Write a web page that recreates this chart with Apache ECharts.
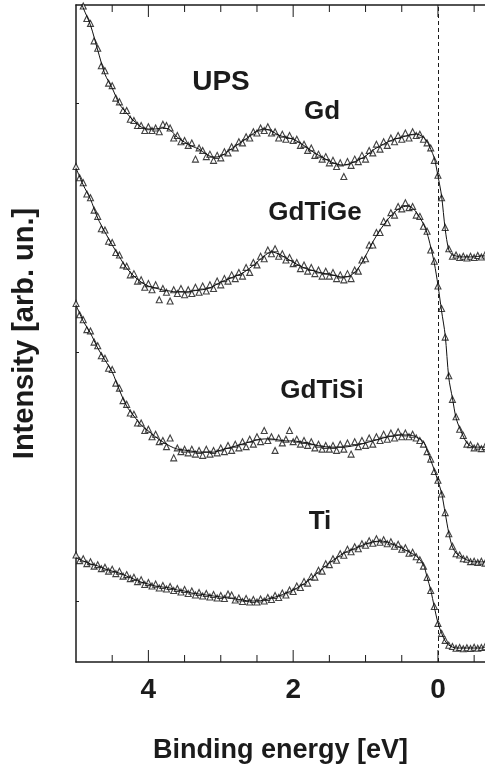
<!DOCTYPE html>
<html>
<head>
<meta charset="utf-8">
<script src="https://cdn.jsdelivr.net/npm/echarts@6/dist/echarts.min.js"></script>
<style>
  html, body { margin: 0; padding: 0; background: #fff; }
  #chart { width: 485px; height: 769px; }
</style>
</head>
<body>
<div id="chart"></div>
<script>
// Binding energies (eV) of the fitted curves
const lineEnergy = [
  5.0, 4.9, 4.8, 4.7, 4.6, 4.5, 4.4, 4.3, 4.2, 4.1,
  4.0, 3.9, 3.8, 3.7, 3.6, 3.5, 3.4, 3.3, 3.2, 3.1,
  3.0, 2.9, 2.8, 2.7, 2.6, 2.5, 2.4, 2.3, 2.2, 2.1,
  2.0, 1.9, 1.8, 1.7, 1.6, 1.5, 1.4, 1.3, 1.2, 1.1,
  1.0, 0.9, 0.8, 0.7, 0.6, 0.5, 0.4, 0.3,
  0.2, 0.15, 0.1, 0.05, 0, -0.05, -0.1, -0.15, -0.2, -0.25, -0.3, -0.4, -0.5, -0.6, -0.65
];

// Fitted intensities (arb. un.), offset per sample
const gdLine = [
  24.58, 23.82, 23.13, 22.13, 21.16, 20.60, 19.96, 19.60, 19.28, 19.04,
  18.96, 18.96, 19.00, 18.92, 18.63, 18.43, 18.27, 18.15, 17.95, 17.83,
  17.87, 18.07, 18.27, 18.47, 18.67, 18.88, 18.96, 18.88, 18.71, 18.63,
  18.55, 18.39, 18.19, 17.99, 17.83, 17.67, 17.55, 17.51, 17.59, 17.71,
  17.87, 18.11, 18.27, 18.43, 18.55, 18.63, 18.71, 18.76,
  18.63, 18.47, 18.15, 17.79, 17.07, 16.27, 14.94, 14.10, 13.90, 13.86, 13.82, 13.82, 13.82, 13.86, 13.86
];
const gdTiGeLine = [
  17.39, 16.71, 16.14, 15.38, 14.82, 14.30, 13.82, 13.37, 13.05, 12.81,
  12.65, 12.57, 12.49, 12.45, 12.41, 12.41, 12.45, 12.49, 12.53, 12.65,
  12.81, 12.93, 13.05, 13.17, 13.37, 13.61, 13.86, 14.02, 13.94, 13.78,
  13.61, 13.45, 13.33, 13.25, 13.17, 13.13, 13.05, 13.01, 13.09, 13.37,
  13.86, 14.42, 14.90, 15.30, 15.62, 15.82, 15.86, 15.62,
  15.14, 14.78, 14.22, 13.57, 12.69, 11.65, 10.68, 8.96, 8.15, 7.35, 6.95, 6.35, 6.18, 6.18, 6.18
];
const gdTiSiLine = [
  11.89, 11.24, 10.76, 10.16, 9.68, 9.20, 8.47, 7.83, 7.43, 7.07,
  6.83, 6.59, 6.39, 6.22, 6.10, 6.06, 6.02, 5.98, 5.98, 5.98,
  6.06, 6.14, 6.22, 6.31, 6.39, 6.47, 6.51, 6.51, 6.47, 6.43,
  6.43, 6.39, 6.35, 6.27, 6.22, 6.18, 6.18, 6.18, 6.22, 6.27,
  6.35, 6.43, 6.51, 6.59, 6.63, 6.67, 6.67, 6.59,
  6.39, 6.06, 5.66, 5.26, 4.82, 4.34, 3.53, 2.73, 2.17, 1.93, 1.81, 1.65, 1.57, 1.57, 1.57
];
const tiLine = [
  1.73, 1.61, 1.49, 1.41, 1.29, 1.20, 1.12, 1.00, 0.88, 0.76,
  0.68, 0.60, 0.56, 0.52, 0.44, 0.40, 0.32, 0.28, 0.24, 0.20,
  0.16, 0.12, 0.08, 0.04, 0.00, 0.00, 0.04, 0.12, 0.20, 0.32,
  0.44, 0.60, 0.80, 1.04, 1.29, 1.53, 1.73, 1.93, 2.05, 2.17,
  2.29, 2.37, 2.41, 2.37, 2.25, 2.13, 1.97, 1.81,
  1.45, 0.96, 0.44, -0.24, -0.88, -1.29, -1.61, -1.77, -1.85, -1.89, -1.89, -1.89, -1.89, -1.89, -1.85
];

// Measured spectra: binding energies (eV) of the data points
const pointEnergy = [
  5, 4.95, 4.9, 4.85, 4.8, 4.75, 4.7, 4.65, 4.6, 4.55,
  4.5, 4.45, 4.4, 4.35, 4.3, 4.25, 4.2, 4.15, 4.1, 4.05,
  4, 3.95, 3.9, 3.85, 3.8, 3.75, 3.7, 3.65, 3.6, 3.55,
  3.5, 3.45, 3.4, 3.35, 3.3, 3.25, 3.2, 3.15, 3.1, 3.05,
  3, 2.95, 2.9, 2.85, 2.8, 2.75, 2.7, 2.65, 2.6, 2.55,
  2.5, 2.45, 2.4, 2.35, 2.3, 2.25, 2.2, 2.15, 2.1, 2.05,
  2, 1.95, 1.9, 1.85, 1.8, 1.75, 1.7, 1.65, 1.6, 1.55,
  1.5, 1.45, 1.4, 1.35, 1.3, 1.25, 1.2, 1.15, 1.1, 1.05,
  1, 0.95, 0.9, 0.85, 0.8, 0.75, 0.7, 0.65, 0.6, 0.55,
  0.5, 0.45, 0.4, 0.35, 0.3, 0.25, 0.2, 0.15, 0.1, 0.05,
  0, -0.05, -0.1, -0.15, -0.2, -0.25, -0.3, -0.35, -0.4, -0.45,
  -0.5, -0.55, -0.6, -0.65
];

const gdPoints = [
  24.6, 24.1, 23.9, 23.4, 23.2, 22.5, 22.2, 21.5, 21.3, 20.8,
  20.7, 20.2, 20.05, 19.7, 19.7, 19.35, 19.3, 19.1, 19.1, 18.9,
  19.05, 18.9, 19.0, 18.85, 19.15, 19.1, 19.0, 18.6, 18.7, 18.45,
  18.5, 18.3, 18.4, 17.75, 18.2, 18.1, 17.85, 17.95, 17.7, 17.9,
  17.8, 18.05, 18.0, 18.25, 18.2, 18.45, 18.4, 18.65, 18.6, 18.85,
  18.8, 19.0, 18.9, 19.05, 18.8, 18.85, 18.6, 18.75, 18.55, 18.7,
  18.5, 18.55, 18.3, 18.35, 18.1, 18.2, 17.9, 17.95, 17.75, 17.85,
  17.6, 17.7, 17.45, 17.6, 17.05, 17.65, 17.5, 17.75, 17.65, 17.9,
  17.75, 18.1, 18.0, 18.35, 18.15, 18.45, 18.3, 18.6, 18.45, 18.7,
  18.55, 18.8, 18.6, 18.85, 18.7, 18.75, 18.55, 18.4, 18.2, 17.7,
  17.1, 16.2, 15.0, 14.15, 13.85, 13.9, 13.8, 13.85, 13.78, 13.85,
  13.8, 13.88, 13.82, 13.9
];
const gdTiGePoints = [
  17.45, 17.0, 16.8, 16.35, 16.2, 15.7, 15.45, 14.95, 14.9, 14.45,
  14.4, 14.0, 13.9, 13.5, 13.45, 13.1, 13.15, 12.85, 12.9, 12.6,
  12.75, 12.5, 12.7, 12.1, 12.55, 12.4, 12.05, 12.5, 12.35, 12.55,
  12.3, 12.5, 12.35, 12.6, 12.4, 12.65, 12.45, 12.7, 12.55, 12.85,
  12.7, 12.95, 12.85, 13.1, 12.95, 13.2, 13.05, 13.4, 13.2, 13.6,
  13.5, 13.85, 13.75, 14.1, 13.95, 14.15, 13.85, 13.95, 13.7, 13.8,
  13.55, 13.6, 13.35, 13.5, 13.25, 13.4, 13.15, 13.3, 13.05, 13.25,
  13.05, 13.2, 12.95, 13.1, 12.9, 13.15, 12.95, 13.3, 13.25, 13.7,
  13.75, 14.3, 14.3, 14.8, 14.8, 15.25, 15.2, 15.6, 15.5, 15.85,
  15.75, 16.0, 15.8, 15.85, 15.5, 15.45, 15.05, 14.85, 14.1, 13.65,
  12.65, 11.75, 10.6, 9.05, 8.1, 7.4, 6.9, 6.65, 6.3, 6.28,
  6.15, 6.22, 6.12, 6.2
];
const gdTiSiPoints = [
  11.95, 11.5, 11.3, 10.9, 10.85, 10.4, 10.25, 9.85, 9.75, 9.35,
  9.3, 8.75, 8.55, 8.05, 7.9, 7.55, 7.5, 7.15, 7.15, 6.85,
  6.9, 6.6, 6.7, 6.4, 6.45, 6.2, 6.55, 5.75, 6.15, 6.0,
  6.1, 5.95, 6.1, 5.9, 6.05, 5.85, 6.1, 5.9, 6.05, 5.95,
  6.15, 6.0, 6.25, 6.05, 6.3, 6.15, 6.4, 6.2, 6.5, 6.3,
  6.6, 6.4, 6.85, 6.45, 6.6, 6.05, 6.55, 6.35, 6.5, 6.85,
  6.4, 6.5, 6.3, 6.45, 6.25, 6.4, 6.15, 6.3, 6.1, 6.25,
  6.1, 6.25, 6.05, 6.3, 6.1, 6.35, 5.9, 6.4, 6.2, 6.45,
  6.25, 6.55, 6.3, 6.6, 6.45, 6.7, 6.5, 6.75, 6.55, 6.8,
  6.6, 6.75, 6.6, 6.7, 6.55, 6.45, 6.3, 6.0, 5.7, 5.2,
  4.85, 4.3, 3.55, 2.7, 2.2, 1.9, 1.85, 1.7, 1.68, 1.58,
  1.6, 1.55, 1.6, 1.52
];
const tiPoints = [
  1.85, 1.62, 1.7, 1.5, 1.58, 1.4, 1.46, 1.3, 1.36, 1.2,
  1.28, 1.1, 1.2, 1.0, 1.06, 0.9, 0.95, 0.78, 0.85, 0.66,
  0.74, 0.6, 0.68, 0.52, 0.62, 0.48, 0.58, 0.42, 0.5, 0.36,
  0.46, 0.3, 0.4, 0.24, 0.34, 0.2, 0.3, 0.16, 0.26, 0.12,
  0.22, 0.1, 0.28, 0.24, 0.04, 0.12, -0.02, 0.1, -0.04, 0.06,
  -0.04, 0.08, 0.0, 0.14, 0.06, 0.22, 0.14, 0.32, 0.24, 0.44,
  0.38, 0.6, 0.54, 0.78, 0.72, 0.98, 0.96, 1.24, 1.2, 1.5,
  1.46, 1.7, 1.64, 1.9, 1.84, 2.08, 1.98, 2.18, 2.1, 2.3,
  2.24, 2.42, 2.32, 2.5, 2.36, 2.46, 2.3, 2.38, 2.2, 2.28,
  2.08, 2.14, 1.92, 1.96, 1.78, 1.66, 1.4, 0.95, 0.42, -0.22,
  -0.9, -1.3, -1.58, -1.78, -1.83, -1.9, -1.87, -1.92, -1.88, -1.91,
  -1.86, -1.9, -1.87, -1.84
];

// Axis ticks and labels
const majorTicks = [4, 2, 0];
const minorTicks = [4.5, 3.5, 3, 2.5, 1.5, 1, 0.5, -0.5];
const intensityTicks = [0, 10, 20];

// Curve labels
const curveLabels = ['UPS', 'Gd', 'GdTiGe', 'GdTiSi', 'Ti'];

const FONT = '"Liberation Sans", Arial, Helvetica, sans-serif';
const INK = '#1b1b1b';
const X_MIN = -0.65, X_MAX = 5.0;
const Y_MIN = -2.45, Y_MAX = 23.94;

const pair = (xs, ys) => xs.map((x, i) => [x, ys[i]]);

// Energy ticks on the bottom and top frame, pointing into the plot
function tickSeries(values, len) {
  return {
    type: 'custom', xAxisIndex: 0, yAxisIndex: 0, silent: true, z: 6,
    data: values.map(v => [v]),
    renderItem(params, api) {
      const e = api.value(0);
      const b = api.coord([e, Y_MIN]);
      const t = api.coord([e, Y_MAX]);
      const st = { stroke: INK, lineWidth: 1 };
      return {
        type: 'group',
        children: [
          { type: 'line', shape: { x1: b[0], y1: b[1], x2: b[0], y2: b[1] - len }, style: st },
          { type: 'line', shape: { x1: t[0], y1: t[1], x2: t[0], y2: t[1] + len }, style: st }
        ]
      };
    }
  };
}

const pointStyle = {
  type: 'scatter', symbol: 'triangle', symbolSize: 6, z: 3,
  itemStyle: { color: '#ffffff', borderColor: '#111', borderWidth: 1.1 },
  silent: true, clip: true
};
const fitStyle = {
  type: 'line', showSymbol: false, smooth: 0.3, z: 4, clip: true,
  lineStyle: { color: '#111', width: 1 }, silent: true
};

const series = [];
[[gdPoints, gdLine], [gdTiGePoints, gdTiGeLine], [gdTiSiPoints, gdTiSiLine], [tiPoints, tiLine]]
  .forEach(([pts, fit]) => {
    series.push(Object.assign({}, pointStyle, { data: pair(pointEnergy, pts) }));
    series.push(Object.assign({}, fitStyle, { data: pair(lineEnergy, fit) }));
  });

// Fermi level marker
series[series.length - 1].markLine = {
  silent: true, symbol: 'none', label: { show: false },
  lineStyle: { color: INK, type: [4, 3], width: 1 },
  data: [{ xAxis: 0 }]
};

series.push(tickSeries(majorTicks, 12));
series.push(tickSeries(minorTicks, 7));

const labelPos = [[221, 82], [322, 112], [315, 213], [322, 391], [320, 522]];

const frameLine = { show: true, onZero: false, lineStyle: { color: INK, width: 1.5 } };

const chart = echarts.init(document.getElementById('chart'), null, { renderer: 'canvas' });
chart.setOption({
  animation: false,
  backgroundColor: '#fff',
  grid: { left: 76, right: 0, top: 5, bottom: 107 },
  xAxis: [{
    type: 'value', position: 'bottom', inverse: true, min: X_MIN, max: X_MAX,
    axisLine: frameLine,
    axisTick: { show: false },
    axisLabel: { show: true, customValues: majorTicks, margin: 14, color: INK,
                 fontFamily: FONT, fontWeight: 'bold', fontSize: 28 },
    splitLine: { show: false },
    name: 'Binding energy [eV]', nameLocation: 'middle', nameGap: 75,
    nameTextStyle: { color: INK, fontFamily: FONT, fontWeight: 'bold', fontSize: 27 }
  }, {
    type: 'value', position: 'top', inverse: true, min: X_MIN, max: X_MAX,
    axisLine: frameLine,
    axisTick: { show: false },
    axisLabel: { show: false },
    splitLine: { show: false }
  }],
  yAxis: [{
    type: 'value', position: 'left', min: Y_MIN, max: Y_MAX,
    axisLine: frameLine,
    axisTick: { show: true, inside: true, length: 3, customValues: intensityTicks,
                lineStyle: { color: INK, width: 1 } },
    axisLabel: { show: false },
    splitLine: { show: false },
    name: 'Intensity [arb. un.]', nameLocation: 'middle', nameGap: 37,
    nameTextStyle: { color: INK, fontFamily: FONT, fontWeight: 'bold', fontSize: 29 }
  }],
  series,
  graphic: curveLabels.map((t, i) => ({
    type: 'text', x: labelPos[i][0], y: labelPos[i][1], z: 10, silent: true,
    style: { text: t, fill: INK, font: 'bold ' + (i === 0 ? 28 : 26) + 'px ' + FONT,
             align: 'center', verticalAlign: 'middle' }
  }))
});
</script>
</body>
</html>
